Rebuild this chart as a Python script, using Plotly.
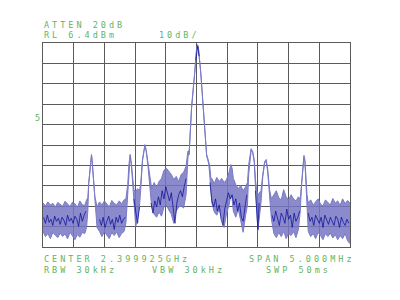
import plotly.graph_objects as go

# Frequency offset from centre (MHz) and envelope levels (dBm)
freq_mhz = [
    -2.50, -2.46, -2.42, -2.38, -2.34, -2.30, -2.26, -2.22, -2.18, -2.14, -2.10, -2.06, -2.02, -1.98, -1.94, -1.90, -1.86, -1.82, -1.79,
    -1.77, -1.755, -1.74, -1.725, -1.71, -1.70, -1.685, -1.67, -1.655, -1.64, -1.62,
    -1.58, -1.54, -1.50, -1.46, -1.42, -1.38, -1.34, -1.30, -1.26, -1.22, -1.18, -1.15,
    -1.13, -1.12, -1.10, -1.08, -1.06, -1.04, -1.02,
    -0.99, -0.96, -0.93,
    -0.91, -0.88, -0.84, -0.82, -0.79, -0.76,
    -0.73, -0.69, -0.65, -0.61, -0.57, -0.53, -0.49, -0.45, -0.41, -0.37, -0.33, -0.29, -0.25, -0.21, -0.17,
    -0.14, -0.13, -0.12, -0.11, -0.08, -0.03, 0.00, 0.02, 0.035, 0.07, 0.11, 0.145, 0.165, 0.18, 0.20, 0.215, 0.235,
    0.25, 0.29, 0.33, 0.37, 0.41, 0.45, 0.49, 0.53, 0.56, 0.58, 0.60, 0.64, 0.68, 0.72, 0.76, 0.80, 0.83,
    0.85, 0.875, 0.89, 0.915, 0.94, 0.96, 0.98,
    1.00,
    1.05, 1.08, 1.11, 1.135, 1.16, 1.19, 1.21,
    1.22, 1.26, 1.30, 1.34, 1.38, 1.42, 1.46, 1.50, 1.54, 1.58, 1.62, 1.66,
    1.69, 1.71, 1.73, 1.75, 1.765, 1.78, 1.80,
    1.82, 1.86, 1.90, 1.94, 1.98, 2.02, 2.06, 2.10, 2.14, 2.18, 2.22, 2.26, 2.30, 2.34, 2.38, 2.42, 2.46, 2.50,
]

max_env_dbm = [
    -72.0, -73.5, -71.5, -73.0, -72.2, -74.0, -71.8, -72.8, -73.6, -71.2, -72.6, -73.8, -71.6, -72.4, -74.2, -71.0, -72.9, -73.2, -70.5,
    -69.5, -62, -56, -50, -48.2, -51, -57, -64, -69, -71, -74,
    -71.5, -73, -71, -72.5, -74, -70.8, -72.2, -73, -71, -72.4, -70.5, -70,
    -66, -63, -53, -48.2, -53, -60.5, -65.4,
    -66.5, -65, -66,
    -63, -50.7, -43.4, -45.9, -53.2, -60.5,
    -65, -62, -64.5, -61.5, -60, -56, -55, -56.5, -58, -60.5, -59, -61.5, -58, -57, -54,
    -46.6, -46.5, -47.5, -40.9, -24.8, -8.1, 3.1, 5.6, 3.1, -8.1, -24.8, -40.9, -48.2, -49.7, -51.7, -53.7, -60,
    -60, -62.5, -59.5, -61.5, -60, -62, -60.5, -57, -53.2, -55, -60, -63, -65, -63.5, -66, -64, -62,
    -53.2, -46.8, -45.4, -46.8, -50.7, -60.5, -66,
    -68,
    -66, -58, -51.7, -50.7, -55.6, -65.4, -69,
    -70, -68, -66, -69.5, -70.5, -65.5, -69, -70.5, -68, -70, -71, -69,
    -70, -62.9, -53.2, -48.7, -50.7, -60.5, -68,
    -72, -70.5, -73, -71.5, -70, -72.5, -73.5, -70.5, -71.8, -73, -69.8, -72, -71, -73.2, -70, -72.4, -70.8, -72,
]

min_env_dbm = [
    -86, -88.5, -87, -89.5, -86.5, -88, -89, -86.8, -88.4, -87.2, -89.6, -86.4, -88, -90, -87.5, -88.8, -86.5, -87, -84,
    -76, -62.5, -56.5, -50.5, -48.7, -51.5, -57.5, -65, -72, -80, -84,
    -86, -88.5, -86, -87.5, -89.5, -86.5, -88, -86.2, -89, -87, -86, -82,
    -72, -64, -53.5, -48.7, -53.5, -61.5, -72,
    -83.5, -80, -74,
    -66, -51.5, -44, -46.5, -54, -63,
    -74, -77.5, -79, -76.5, -78.5, -74, -73, -75.5, -77.5, -82, -76, -74, -73.5, -74.5, -68,
    -50, -47.5, -48.5, -41.5, -25.5, -8.7, 2.6, 5.0, 2.6, -8.7, -25.5, -41.5, -49, -50.5, -53, -58, -70,
    -72, -76.5, -78, -75, -80, -84, -77, -73, -68, -70, -76, -79, -75, -80, -86.4, -78, -73,
    -58, -47.5, -46, -47.5, -52, -64, -76,
    -85.5,
    -72, -59, -52.5, -51.5, -57, -69, -78,
    -80, -87, -89, -86.5, -88.5, -86, -89.5, -87, -88, -86, -89, -85,
    -76, -64, -54, -49.5, -51.5, -62, -76,
    -86, -88.5, -87, -89.5, -86.5, -88, -90, -87, -88.5, -86.8, -89.2, -87.5, -90, -88, -89.5, -87, -90.5, -92,
]

# Dark live trace (segments separated by None)
trace_freq = [
    -2.49, -2.46, -2.43, -2.40, -2.37, -2.34, -2.31, -2.28, -2.25, -2.22, -2.19, -2.16, -2.13, -2.10, -2.07, -2.04, -2.01, -1.98, -1.95, -1.92, -1.89, -1.86, -1.83, -1.80, None,
    -1.58, -1.55, -1.52, -1.49, -1.46, -1.43, -1.40, -1.37, -1.34, -1.31, -1.28, -1.25, -1.22, -1.19, -1.16, None,
    -1.02, -0.99, -0.96, -0.93, None,
    -0.74, -0.71, -0.68, -0.65, -0.62, -0.59, -0.56, -0.53, -0.50, -0.47, -0.44, -0.41, -0.38, -0.35, -0.32, -0.29, -0.26, -0.23, -0.20, -0.17, None,
    -0.01, 0.02, 0.04, None,
    0.22, 0.25, 0.28, 0.31, 0.34, 0.37, 0.40, 0.43, 0.46, 0.49, 0.52, 0.55, 0.58, 0.61, 0.64, 0.67, 0.70, 0.73, 0.76, 0.79, 0.82, None,
    0.96, 0.99, 1.00, 1.02, None,
    1.23, 1.26, 1.29, 1.32, 1.35, 1.38, 1.41, 1.44, 1.47, 1.50, 1.53, 1.56, 1.59, 1.62, 1.65, 1.68, None,
    1.82, 1.85, 1.88, 1.91, 1.94, 1.97, 2.00, 2.03, 2.06, 2.09, 2.12, 2.15, 2.18, 2.21, 2.24, 2.27, 2.30, 2.33, 2.36, 2.39, 2.42, 2.45, 2.48,
]
trace_dbm = [
    -79, -82, -78, -81.5, -80, -83, -78.5, -81, -79.5, -82.5, -79, -80.5, -83, -78, -81, -79.5, -82, -78.5, -80, -83.5, -77, -81, -78, -76, None,
    -80, -83, -79, -84, -81, -78.5, -82.5, -80, -85, -79, -81.5, -78, -82, -80, -79, None,
    -70, -76, -82, -74, None,
    -72, -77, -71, -74, -69, -73, -66, -70, -64, -68, -71, -67, -75, -82, -72, -68, -66, -69, -64, -60, None,
    -2, 4.8, 0, None,
    -62, -71, -74, -70, -76, -73, -80, -83, -75, -71, -67, -70, -68, -73, -70, -76, -72, -79, -81, -74, -68, None,
    -66, -78, -85, -72, None,
    -78, -81, -76, -80, -83, -77, -79, -82, -75, -80, -78, -84, -77, -81, -79, -76, None,
    -77, -81, -79, -83, -78, -80.5, -82, -79, -84, -78, -80, -82.5, -79, -81, -83, -78.5, -80, -84, -79, -81.5, -83, -80, -82,
]

ref_level = 6.4
db_per_div = 10

GREEN = "#62b462"
GRID = "#5a5a5a"
LIGHT = "#7a7ac6"
DARK = "rgba(10,10,150,0.8)"

fig = go.Figure()
fig.add_trace(go.Scatter(x=freq_mhz, y=min_env_dbm, mode="lines",
                         line=dict(color=LIGHT, width=1), hoverinfo="skip", showlegend=False))
fig.add_trace(go.Scatter(x=freq_mhz, y=max_env_dbm, mode="lines", fill="tonexty",
                         fillcolor="rgba(118,118,196,0.85)",
                         line=dict(color=LIGHT, width=1), hoverinfo="skip", showlegend=False))
fig.add_trace(go.Scatter(x=trace_freq, y=trace_dbm, mode="lines", connectgaps=False,
                         line=dict(color=DARK, width=0.9), hoverinfo="skip", showlegend=False))

ax_common = dict(showgrid=True, gridcolor=GRID, gridwidth=1, zeroline=False,
                 showline=True, mirror=True, linecolor=GRID, linewidth=1,
                 showticklabels=False, ticks="")
fig.update_xaxes(range=[-2.5, 2.5], tick0=-2.5, dtick=0.5, **ax_common)
fig.update_yaxes(range=[ref_level - 10 * db_per_div, ref_level], tick0=ref_level,
                 dtick=db_per_div, **ax_common)


def label(text, x, y, anchor="left"):
    fig.add_annotation(text='<span style="letter-spacing:3px">' + text + '</span>',
                       x=x, y=y, xref="paper", yref="paper", xanchor=anchor, yanchor="middle",
                       showarrow=False, borderpad=0,
                       font=dict(family="DejaVu Sans Mono", size=8.5, color=GREEN))


label("ATTEN 20dB", 0.0, 1.088)
label("RL 6.4dBm", 0.0, 1.039)
label("10dB/", 0.3746, 1.039)
label("CENTER 2.399925GHz", 0.0, -0.059)
label("SPAN 5.000MHz", 0.668, -0.059)
label("RBW 30kHz", 0.0, -0.113)
label("VBW 30kHz", 0.351, -0.113)
label("SWP 50ms", 0.723, -0.113)
fig.add_annotation(text="5", x=-0.017, y=0.632, xref="paper", yref="paper",
                   xanchor="center", yanchor="middle", showarrow=False, borderpad=0,
                   font=dict(family="DejaVu Sans Mono", size=8.5, color=GREEN))

fig.update_layout(width=400, height=300, margin=dict(l=43, r=50, t=43, b=53),
                  paper_bgcolor="white", plot_bgcolor="white")

fig.write_html("out.html")
